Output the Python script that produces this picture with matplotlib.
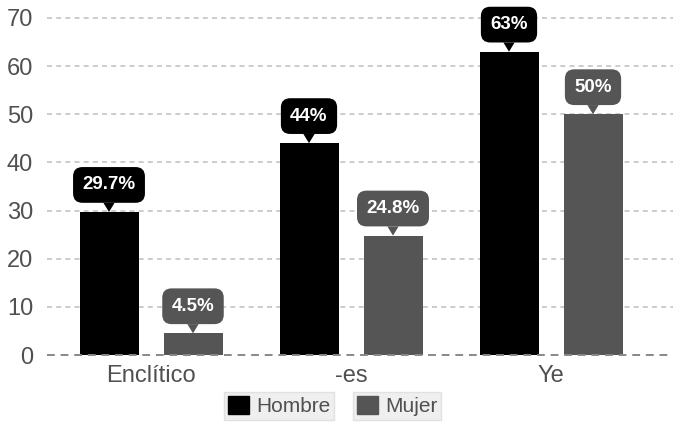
import matplotlib
matplotlib.use("Agg")
import matplotlib.pyplot as plt
import numpy as np
from matplotlib.patches import Patch

categories = ["Enclítico", "-es", "Ye"]
hombre = [29.7, 44, 63]
mujer = [4.5, 24.8, 50]
hombre_labels = ["29.7%", "44%", "63%"]
mujer_labels = ["4.5%", "24.8%", "50%"]
yticks = [0, 10, 20, 30, 40, 50, 60, 70]

plt.rcParams['font.family'] = ['Liberation Sans', 'DejaVu Sans']

fig = plt.figure(figsize=(6.73, 4.26), dpi=100)
ax = fig.add_axes([47/673, 71/426, 1 - 47/673, (355-18)/426])

x = np.arange(len(categories))
w = 0.295
off = 0.21
c_h = "#000000"
c_m = "#555555"
txt = "#505050"

ax.bar(x - off, hombre, w, color=c_h, zorder=3)
ax.bar(x + off, mujer, w, color=c_m, zorder=3)

ax.set_xlim(-0.52, 2.61)
ax.set_ylim(0, 70)
ax.set_yticks(yticks)
ax.set_xticks(x)
ax.set_xticklabels(categories, fontsize=17, color=txt)
ax.tick_params(axis='y', labelsize=17, colors=txt, length=0, pad=10)
ax.tick_params(axis='x', length=0, pad=7)
for s in ax.spines.values():
    s.set_visible(False)

for t in yticks:
    if t == 0:
        ax.axhline(t, color="#888888", lw=1.4, ls=(0, (4, 3)), zorder=4, clip_on=False)
    else:
        ax.axhline(t, color="#c4c4c4", lw=1.2, ls=(0, (3, 2.5)), zorder=1, clip_on=False)

def callout(xpos, val, text, color):
    ax.annotate(text, xy=(xpos, val), xytext=(0, 19.5), textcoords='offset points',
                ha='center', va='center', fontsize=13.5, fontweight='bold', color='white',
                bbox=dict(boxstyle='round,pad=0.5,rounding_size=0.5', fc=color, ec='none'),
                arrowprops=dict(arrowstyle='wedge,tail_width=0.6,shrink_factor=0.5', fc=color, ec='none',
                                shrinkA=0, shrinkB=0),
                zorder=5, annotation_clip=False)

for i in range(len(categories)):
    callout(x[i] - off, hombre[i], hombre_labels[i], c_h)
    callout(x[i] + off, mujer[i], mujer_labels[i], c_m)

for color, label, cx in [(c_h, "Hombre", 279), (c_m, "Mujer", 397)]:
    leg = fig.legend(handles=[Patch(color=color, label=label)], loc='center',
                     bbox_to_anchor=(cx/673, 1 - 406/426), frameon=True, fontsize=15,
                     handlelength=1.0, handleheight=1.0, handletextpad=0.35, borderpad=0.2,
                     borderaxespad=0, fancybox=False, labelcolor=txt)
    leg.get_frame().set_facecolor("#ebebeb")
    leg.get_frame().set_edgecolor("#dcdcdc")

fig.savefig("out.png", dpi=100, facecolor="white")
